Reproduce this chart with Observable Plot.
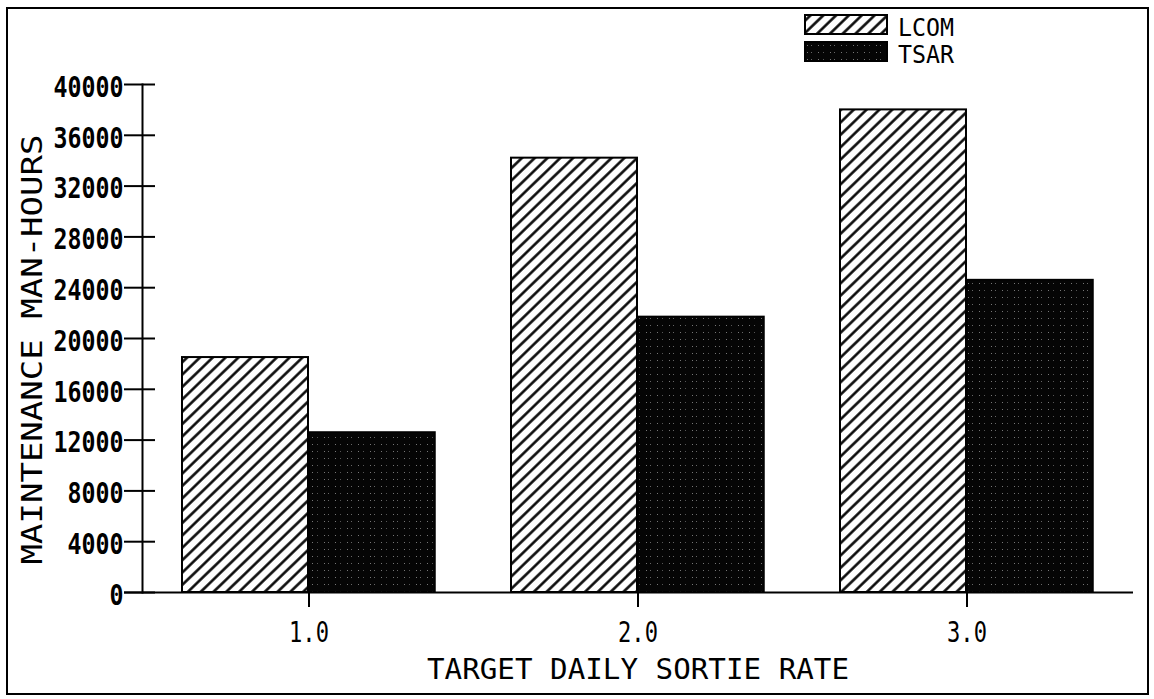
<!DOCTYPE html>
<html><head><meta charset="utf-8">
<script src="https://cdn.jsdelivr.net/npm/d3@7"></script>
<script src="https://cdn.jsdelivr.net/npm/@observablehq/plot@0.6"></script>
<style>
body{margin:0;background:#fff;}
#wrap{position:relative;width:1154px;height:699px;overflow:hidden;background:#fff;}
#overlay{position:absolute;left:0;top:0;pointer-events:none;}
#wrap text{font-family:"DejaVu Sans Mono",monospace;}
</style></head><body>
<div id="wrap">
<svg id="overlay" width="1154" height="699">
  <defs>
    <pattern id="hatch" patternUnits="userSpaceOnUse" width="8.9" height="10" patternTransform="rotate(46)">
      <rect width="8.9" height="10" fill="#fff"/>
      <line x1="4.45" y1="-1" x2="4.45" y2="11" stroke="#000" stroke-width="2.5"/>
    </pattern>
    <pattern id="dots" patternUnits="userSpaceOnUse" width="23" height="7">
      <rect width="23" height="7" fill="#050505"/>
      <rect x="2" y="3" width="1" height="1" fill="#777"/>
      <rect x="6" y="3" width="1" height="1" fill="#666"/>
      <rect x="13" y="3" width="1" height="1" fill="#777"/>
      <rect x="18" y="3" width="1" height="1" fill="#555"/>
    </pattern>
  </defs>
  <rect x="7" y="8" width="1141" height="686" fill="none" stroke="#000" stroke-width="2"/>
  <g id="legend"></g>
</svg>
</div>
<script>
const rates = ["1.0", "2.0", "3.0"];
const seriesNames = ["LCOM", "TSAR"];
const lcomHours = [18500, 34200, 38000];
const tsarHours = [12600, 21700, 24600];
const yTicks = [0, 4000, 8000, 12000, 16000, 20000, 24000, 28000, 32000, 36000, 40000];
const xTitle = "TARGET DAILY SORTIE RATE";
const yTitle = "MAINTENANCE MAN-HOURS";

const table = rates.flatMap((r, i) => [
  {rate: r, series: seriesNames[0], hours: lcomHours[i]},
  {rate: r, series: seriesNames[1], hours: tsarHours[i]}
]);

const W = 1154, H = 699, mL = 142, mR = 21, mT = 84, mB = 107;
const frameW = W - mL - mR;
const pIn = 0.23, pOut = 0.117;
const bw = frameW / (rates.length - pIn + 2 * pOut) * (1 - pIn);
const FS = 29;

const chart = Plot.plot({
  width: W, height: H,
  marginLeft: mL, marginRight: mR, marginTop: mT, marginBottom: mB,
  style: {fontFamily: "DejaVu Sans Mono", background: "transparent", color: "#000"},
  x: {domain: rates, paddingInner: pIn, paddingOuter: pOut, label: null, axis: null},
  y: {domain: [0, 40000], label: null, axis: null},
  marks: [
    Plot.barY(table.filter(d => d.series === "LCOM"), {x: "rate", y: "hours", fill: "url(#hatch)", stroke: "#000", strokeWidth: 2, insetRight: bw / 2}),
    Plot.barY(table.filter(d => d.series === "TSAR"), {x: "rate", y: "hours", fill: "url(#dots)", stroke: "#000", strokeWidth: 1.5, insetLeft: bw / 2}),
    Plot.frame({anchor: "left", strokeWidth: 2}),
    Plot.ruleY(yTicks, {insetLeft: -18, insetRight: frameW - 13, strokeWidth: 2}),
    Plot.ruleY([0], {insetLeft: -18, strokeWidth: 2}),
    Plot.axisY(yTicks, {tickSize: 0, tickPadding: 19, fontSize: FS, fontWeight: "bold", dy: 3, label: null, tickFormat: d => String(d)}),
    Plot.axisX({tickSize: 15, tickPadding: 14, fontSize: FS, strokeWidth: 2, label: null}),
    Plot.text([xTitle], {text: d => d, frameAnchor: "bottom", dy: 86, fontSize: FS, ariaLabel: () => "x-title"}),
    Plot.text([yTitle], {text: d => d, frameAnchor: "left", textAnchor: "middle", rotate: -90, dx: -110, dy: 11, fontSize: FS, ariaLabel: () => "y-title"})
  ]
});
document.getElementById("wrap").insertBefore(chart, document.getElementById("overlay"));

function squeeze(sel, fn) {
  chart.querySelectorAll(sel).forEach(el => {
    const list = el.tagName.toLowerCase() === "text" ? [el] : Array.from(el.querySelectorAll("text"));
    list.forEach(t => {
      const s = t.textContent;
      t.setAttribute("textLength", fn(s));
      t.setAttribute("lengthAdjust", "spacingAndGlyphs");
    });
  });
}
squeeze('g[aria-label="y-axis tick label"]', s => 14 * s.length);
squeeze('g[aria-label="x-axis tick label"]', s => 13.3 * s.length);
squeeze('[aria-label="x-title"]', s => 422);
squeeze('[aria-label="y-title"]', s => 430);

// legend
const legend = d3.select("#legend");
const fills = ["url(#hatch)", "url(#dots)"];
const rowsY = [15, 42];
seriesNames.forEach((name, i) => {
  legend.append("rect").attr("x", 805).attr("y", rowsY[i]).attr("width", 82).attr("height", 19)
    .attr("fill", fills[i]).attr("stroke", "#000").attr("stroke-width", 2);
  legend.append("text").attr("x", 898).attr("y", rowsY[i] + 21).attr("font-size", 24)
    .attr("textLength", 14 * name.length).attr("lengthAdjust", "spacingAndGlyphs").text(name);
});
</script>
</body></html>
